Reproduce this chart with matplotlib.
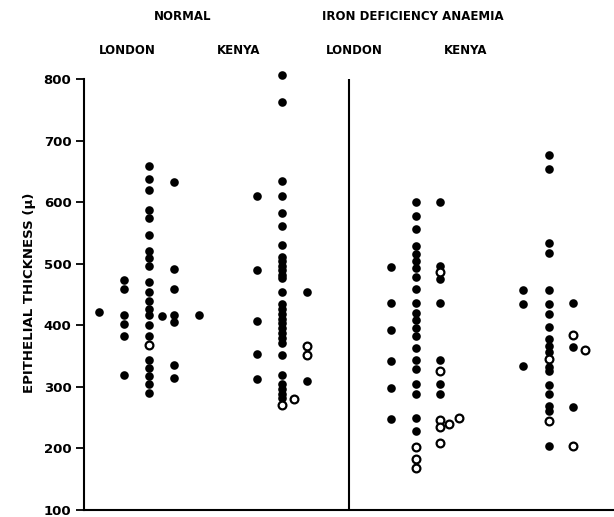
import matplotlib
matplotlib.use("Agg")
import matplotlib.pyplot as plt

# ---------------- data ----------------
groups = ["NORMAL LONDON", "NORMAL KENYA", "IDA LONDON", "IDA KENYA"]

# Each group: list of (column offset, filled values, open values)
normal_london = [
    (0.0, [658, 638, 620, 588, 574, 546, 521, 509, 497, 470, 454, 440, 427, 417,
           400, 383, 343, 331, 317, 304, 290], [368]),
    (-1.0, [473, 459, 417, 402, 382, 320], []),
    (-2.0, [421], []),
    (0.5, [415], []),
    (1.0, [633, 492, 459, 417, 405, 335, 314], []),
    (2.0, [417], []),
]
normal_kenya = [
    (0.0, [806, 762, 634, 610, 582, 562, 531, 511, 504, 496, 489, 482, 476, 454,
           435, 427, 419, 411, 403, 395, 387, 380, 371, 352, 320, 304, 296, 289, 282],
     [271]),
    (-1.0, [610, 490, 407, 353, 313], []),
    (1.0, [454, 309], [366, 352]),
    (0.47, [], [281]),
]
ida_london = [
    (0.0, [600, 577, 556, 529, 516, 504, 493, 479, 459, 437, 420, 409, 396, 383,
           363, 343, 329, 304, 289, 250, 229], [203, 183, 169]),
    (-1.0, [494, 437, 392, 342, 298, 247], []),
    (0.95, [600, 497, 475, 437, 343, 304, 289], [486, 325, 246, 234, 209]),
    (1.3, [], [239]),
    (1.7, [], [250]),
]
ida_kenya = [
    (0.0, [676, 654, 533, 518, 458, 435, 418, 398, 377, 366, 356, 332, 325, 303,
           289, 269, 261, 204], [345, 245]),
    (-1.05, [458, 435, 334], []),
    (0.95, [437, 365, 268], [385, 204]),
    (1.45, [], [360]),
]
group_data = [normal_london, normal_kenya, ida_london, ida_kenya]

y_ticks = [100, 200, 300, 400, 500, 600, 700, 800]
header_main = ["NORMAL", "IRON DEFICIENCY ANAEMIA"]
header_sub = ["LONDON", "KENYA", "LONDON", "KENYA"]
y_label = "EPITHELIAL THICKNESS (μ)"

# ---------------- layout ----------------
W, H = 614, 517
fig = plt.figure(figsize=(W / 100, H / 100), dpi=100)
ax = fig.add_axes([84 / W, (H - 510) / H, 1 - 84 / W, (510 - 79) / H])

centers = [2.6, 7.92, 13.28, 18.6]
divider_x = 10.58

for c, data in zip(centers, group_data):
    for off, filled, hollow in data:
        if filled:
            ax.plot([c + off] * len(filled), filled, 'o', ms=6.2, mfc='black',
                    mec='black', mew=0, clip_on=False, zorder=3)
        if hollow:
            ax.plot([c + off] * len(hollow), hollow, 'o', ms=5.6, mfc='white',
                    mec='black', mew=1.6, clip_on=False, zorder=4)

ax.axvline(divider_x, color='black', lw=1.5)

ax.set_xlim(0, 21.2)
ax.set_ylim(100, 800)
ax.set_yticks(y_ticks)
ax.set_yticklabels([str(t) for t in y_ticks], fontsize=9.5, fontweight='bold')
ax.set_xticks([])
for s in ['top', 'right']:
    ax.spines[s].set_visible(False)
for s in ['left', 'bottom']:
    ax.spines[s].set_linewidth(1.5)
ax.tick_params(axis='y', length=6, width=1.3, pad=3)

fig.text(30 / W, 1 - 293 / H, y_label, rotation=90, ha='center', va='center',
         fontsize=9.5, fontweight='bold')

for txt, xp in zip(header_main, [183, 413]):
    fig.text(xp / W, 1 - 17 / H, txt, ha='center', va='center',
             fontsize=8.5, fontweight='bold')
for txt, xp in zip(header_sub, [127, 239, 354, 466]):
    fig.text(xp / W, 1 - 51 / H, txt, ha='center', va='center',
             fontsize=8.5, fontweight='bold')

fig.savefig("out.png", dpi=100)
